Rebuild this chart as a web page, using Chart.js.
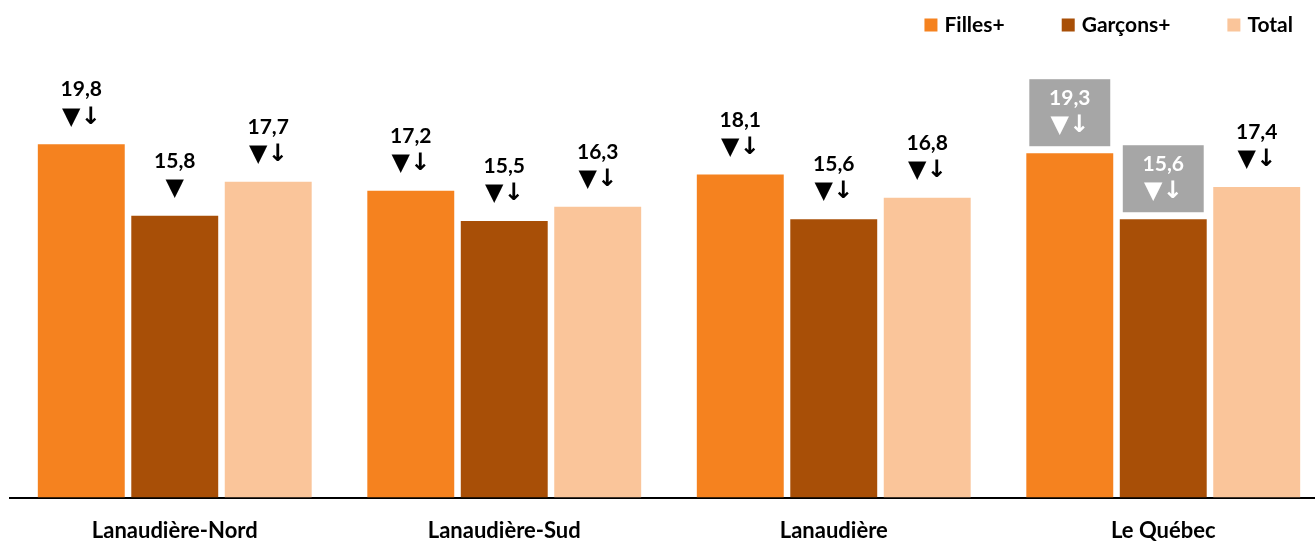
<!DOCTYPE html>
<html><head><meta charset="utf-8">
<script src="https://cdn.jsdelivr.net/npm/chart.js@4/dist/chart.umd.min.js"></script>
<style>html,body{margin:0;padding:0;overflow:hidden;background:#fff}#wrap{width:1330px;height:542px;position:relative}</style>
</head><body><div id="wrap"><canvas id="c"></canvas></div>
<script>
const categories = ['Lanaudière-Nord', 'Lanaudière-Sud', 'Lanaudière', 'Le Québec'];
const seriesNames = ['Filles+', 'Garçons+', 'Total'];
const filles = [19.8, 17.2, 18.1, 19.3];
const garcons = [15.8, 15.5, 15.6, 15.6];
const total = [17.7, 16.3, 16.8, 17.4];
const fillesMarks = ['▼↓', '▼↓', '▼↓', '▼↓'];
const garconsMarks = ['▼', '▼↓', '▼↓', '▼↓'];
const totalMarks = ['▼↓', '▼↓', '▼↓', '▼↓'];
const fillesBoxed = [false, false, false, true];
const garconsBoxed = [false, false, false, true];
const totalBoxed = [false, false, false, false];
const colors = ['#F5821F', '#A84F07', '#FAC59A'];
const Y_MAX = 25;

const FONT = 'Lato, "DejaVu Sans", sans-serif';
const fmt = v => v.toFixed(1).replace('.', ',');

const labelPlugin = {
  id: 'valueLabels',
  afterDatasetsDraw(chart) {
    const ctx = chart.ctx;
    const marks = [fillesMarks, garconsMarks, totalMarks];
    const boxed = [fillesBoxed, garconsBoxed, totalBoxed];
    chart.data.datasets.forEach((ds, i) => {
      const meta = chart.getDatasetMeta(i);
      meta.data.forEach((bar, j) => {
        const x = bar.x, top = bar.y, w = bar.width;
        ctx.save();
        let col = '#000';
        if (boxed[i][j]) {
          ctx.fillStyle = '#A6A6A6';
          ctx.fillRect(x - w / 2 + 3, top - 74, w - 6, 67);
          col = '#fff';
        }
        ctx.fillStyle = col;
        ctx.textAlign = 'center';
        ctx.textBaseline = 'alphabetic';
        ctx.font = 'bold 21px ' + FONT;
        ctx.fillText(fmt(ds.data[j]), x, top - 48);
        ctx.textBaseline = 'middle';
        ctx.font = 'bold 24px "DejaVu Sans", sans-serif';
        ctx.fillText(marks[i][j], x, top - 27);
        ctx.restore();
      });
    });
  }
};

const legendPlugin = {
  id: 'customLegend',
  afterDraw(chart) {
    const ctx = chart.ctx;
    ctx.save();
    ctx.font = 'bold 21px ' + FONT;
    ctx.textBaseline = 'middle';
    ctx.textAlign = 'left';
    let xr = 1293;
    const yc = 25;
    const items = chart.data.datasets.map(d => ({ t: d.label, c: d.backgroundColor }));
    for (let k = items.length - 1; k >= 0; k--) {
      const tw = ctx.measureText(items[k].t).width;
      const tx = xr - tw;
      ctx.fillStyle = '#000';
      ctx.fillText(items[k].t, tx, yc);
      ctx.fillStyle = items[k].c;
      ctx.fillRect(tx - 7 - 13, yc - 6.5, 13, 13);
      xr = tx - 7 - 13 - 57;
    }
    ctx.restore();
  }
};

new Chart(document.getElementById('c'), {
  type: 'bar',
  data: {
    labels: categories,
    datasets: [
      { label: seriesNames[0], data: filles, backgroundColor: colors[0] },
      { label: seriesNames[1], data: garcons, backgroundColor: colors[1] },
      { label: seriesNames[2], data: total, backgroundColor: colors[2] }
    ]
  },
  options: {
    responsive: true,
    maintainAspectRatio: false,
    animation: false,
    layout: { padding: { top: 51.5, left: 10, right: 2, bottom: -22 } },
    datasets: { bar: { categoryPercentage: 0.851, barPercentage: 0.93 } },
    plugins: { legend: { display: false }, tooltip: { enabled: false } },
    scales: {
      x: {
        grid: { display: false, drawTicks: false },
        border: { display: true, color: '#000', width: 2 },
        ticks: { color: '#000', padding: 20, font: { family: FONT, weight: 'bold', size: 22 } }
      },
      y: { display: false, min: 0, max: Y_MAX }
    }
  },
  plugins: [labelPlugin, legendPlugin]
});
</script></body></html>
